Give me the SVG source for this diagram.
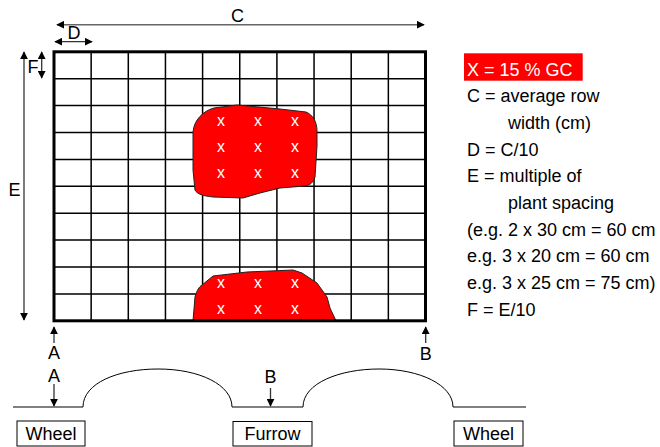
<svg xmlns="http://www.w3.org/2000/svg" width="660" height="447" viewBox="0 0 660 447">
<style>
text{font-family:"Liberation Sans",Arial,sans-serif;font-size:18px;fill:#000}
.lbl{text-anchor:middle}
.x{fill:#fff;font-size:16px;text-anchor:middle}
.grid{stroke:#000;stroke-width:1.5;fill:none}
.dim{stroke:#333;stroke-width:1.3;fill:none}
.blob{fill:#ff0000;stroke:#222;stroke-width:1}
.box{fill:#fff;stroke:#000;stroke-width:1}
.ground{fill:none;stroke:#000;stroke-width:1}
</style>
<defs>
<marker id="ah" viewBox="0 0 10 10" refX="9" refY="5" markerWidth="8" markerHeight="8" markerUnits="userSpaceOnUse" orient="auto-start-reverse">
<path d="M0,0 L10,5 L0,10 Z" fill="#000"/>
</marker>
</defs>
<rect width="660" height="447" fill="#fff"/>

<g id="grid">
<path class="grid" d="M91.15,51.8V320.8M128.3,51.8V320.8M165.45,51.8V320.8M202.6,51.8V320.8M239.75,51.8V320.8M276.9,51.8V320.8M314.05,51.8V320.8M351.2,51.8V320.8M388.35,51.8V320.8M54,78.7H425.5M54,105.6H425.5M54,132.5H425.5M54,159.4H425.5M54,186.3H425.5M54,213.2H425.5M54,240.1H425.5M54,267H425.5M54,293.9H425.5"/>
</g>

<g id="patch-upper">
<path class="blob" d="M195,190 L193,170 L193,132 C194,120 203,111 214,108 L237,105 L280,109 L306,112 C313,115 317,122 317,131 L317,146 L315,177 C313,183 310,185 305,186 L280,188 L260,193 L243,198 L213,197 C203,196 197,194 195,190 Z"/>
<text class="x" x="221" y="126">x</text><text class="x" x="258" y="126">x</text><text class="x" x="295" y="126">x</text>
<text class="x" x="221" y="152">x</text><text class="x" x="258" y="152">x</text><text class="x" x="295" y="152">x</text>
<text class="x" x="221" y="178">x</text><text class="x" x="258" y="178">x</text><text class="x" x="295" y="178">x</text>
</g>

<g id="patch-lower">
<path class="blob" d="M193,320.8 L195,297 C197,290 199,287 202,285 L213,276 L247,272 L293,270 L302,273 L317,283 L327,297 L330,308 L336,320.8 Z"/>
<text class="x" x="221" y="288">x</text><text class="x" x="258" y="288">x</text><text class="x" x="295" y="288">x</text>
<text class="x" x="221" y="314">x</text><text class="x" x="258" y="314">x</text><text class="x" x="295" y="314">x</text>
</g>

<g id="grid-border">
<rect x="54" y="51.8" width="371.5" height="269" fill="none" stroke="#000" stroke-width="3"/>
</g>

<g id="connectors">
<line x1="57" y1="24.7" x2="424" y2="24.7" stroke="#666" stroke-width="1.6" marker-start="url(#ah)" marker-end="url(#ah)"/>
<line class="dim" x1="55" y1="41.7" x2="92" y2="41.7" marker-start="url(#ah)" marker-end="url(#ah)"/>
<line class="dim" x1="41.7" y1="52" x2="41.7" y2="78" marker-start="url(#ah)" marker-end="url(#ah)"/>
<line class="dim" x1="24" y1="52" x2="24" y2="320" marker-start="url(#ah)" marker-end="url(#ah)"/>
<line class="dim" x1="54" y1="343" x2="54" y2="327" marker-end="url(#ah)"/>
<line class="dim" x1="425.7" y1="343" x2="425.7" y2="327" marker-end="url(#ah)"/>
<line class="dim" x1="54" y1="384" x2="54" y2="406" marker-end="url(#ah)"/>
<line class="dim" x1="270.5" y1="388" x2="270.5" y2="406" marker-end="url(#ah)"/>
</g>

<g id="labels">
<text class="lbl" x="237.5" y="21.7">C</text>
<text class="lbl" x="74" y="39.3">D</text>
<text x="27.5" y="72.7">F</text>
<text x="8.5" y="196">E</text>
<text class="lbl" x="54" y="359.3">A</text>
<text class="lbl" x="54" y="381.7">A</text>
<text class="lbl" x="425.7" y="360">B</text>
<text class="lbl" x="270.5" y="383">B</text>
</g>

<g id="legend">
<rect x="464" y="53.3" width="118.7" height="27.4" fill="#ff0000"/>
<text x="467" y="75.5" style="fill:#fff">X = 15 % GC</text>
<text x="467" y="102.2">C = average row</text>
<text x="508" y="128.9">width (cm)</text>
<text x="467" y="155.6">D = C/10</text>
<text x="467" y="182.3">E = multiple of</text>
<text x="508" y="209">plant spacing</text>
<text x="467" y="235.7">(e.g. 2 x 30 cm = 60 cm</text>
<text x="467" y="262.4">e.g. 3 x 20 cm = 60 cm</text>
<text x="467" y="289.1">e.g. 3 x 25 cm = 75 cm)</text>
<text x="467" y="315.8">F = E/10</text>
</g>

<g id="profile">
<path class="ground" d="M13,407 H83 C83,383 118,369 158,369 C200,369 232,385 232,407 H303 C303,383 340,369 379,369 C420,369 453,385 453,407 H526"/>
</g>

<g id="wheel-left">
<rect class="box" x="17" y="421" width="68" height="25"/>
<text class="lbl" x="51" y="440">Wheel</text>
</g>
<g id="furrow">
<rect class="box" x="233" y="421.5" width="79" height="24.5"/>
<text class="lbl" x="272.5" y="440">Furrow</text>
</g>
<g id="wheel-right">
<rect class="box" x="454" y="421" width="69" height="25"/>
<text class="lbl" x="488.5" y="440">Wheel</text>
</g>
</svg>
